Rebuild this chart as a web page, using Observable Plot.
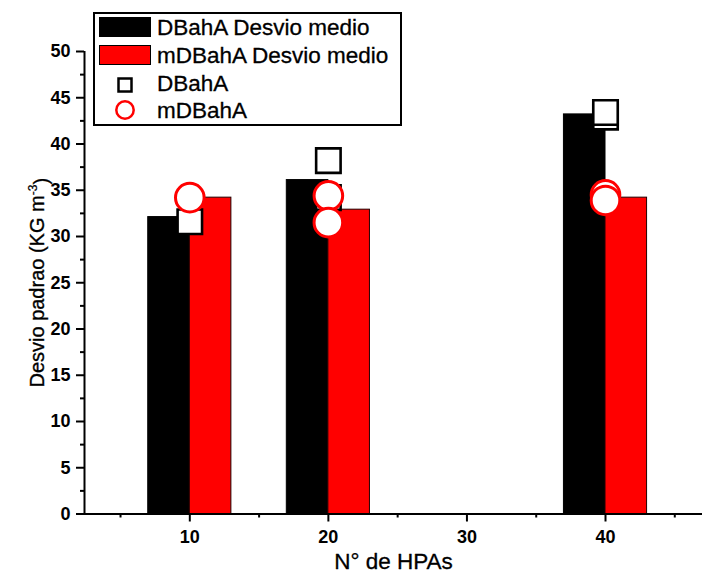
<!DOCTYPE html>
<html>
<head>
<meta charset="utf-8">
<script src="https://cdn.jsdelivr.net/npm/d3@7"></script>
<script src="https://cdn.jsdelivr.net/npm/@observablehq/plot@0.6"></script>
<style>
  body { margin: 0; background: #fff; }
  #chart { position: relative; width: 702px; height: 581px; font-family: "Liberation Sans", Arial, sans-serif; }
  #legend { position: absolute; left: 93px; top: 12px; }
</style>
</head>
<body>
<div id="chart"></div>
<script>
// Number of HPAs per group
const hpas = [10, 20, 40];
// Mean standard deviation per group
const dbahaMean = [32.1, 36.1, 43.2];
const mdbahaMean = [34.2, 32.9, 34.2];
// Individual runs (x group, value)
const dbahaRunN = [10, 20, 20, 40, 40];
const dbahaRunV = [31.6, 34.2, 38.2, 42.9, 43.4];
const mdbahaRunN = [10, 20, 20, 40, 40];
const mdbahaRunV = [34.2, 34.4, 31.5, 34.5, 33.9];
// Axis ticks
const yTicks = [0, 5, 10, 15, 20, 25, 30, 35, 40, 45, 50];
const yMinorTicks = [2.5, 7.5, 12.5, 17.5, 22.5, 27.5, 32.5, 37.5, 42.5, 47.5];
const xTicks = [10, 20, 30, 40];
const xMinorTicks = [5, 15, 25, 35, 45];
// Axis titles and legend labels
const xTitle = "N° de HPAs";
const yTitleBase = "Desvio padrao (KG m";
const yTitleExp = "-3";
const seriesNames = ["DBahA Desvio medio", "mDBahA Desvio medio", "DBahA", "mDBahA"];

const xDomain = [2.4, 47];
const barW = 3;
const font = '"Liberation Sans", Arial, sans-serif';

const bars = hpas.map((n, i) => ({n, dbaha: dbahaMean[i], mdbaha: mdbahaMean[i]}));
const squares = dbahaRunN.map((n, i) => ({n, v: dbahaRunV[i]}));
const circles = mdbahaRunN.map((n, i) => ({n, v: mdbahaRunV[i]}));

const chart = Plot.plot({
  width: 702,
  height: 581,
  marginLeft: 84,
  marginRight: 0,
  marginTop: 51,
  marginBottom: 67.5,
  style: {fontFamily: font, background: "white", overflow: "visible"},
  x: {domain: xDomain, label: null},
  y: {domain: [0, 50], label: null},
  marks: [
    Plot.rect(bars, {x1: d => d.n - barW, x2: d => d.n, y1: 0, y2: "dbaha", fill: "#000", stroke: "#000", strokeWidth: 1}),
    Plot.rect(bars, {x1: d => d.n, x2: d => d.n + barW, y1: 0, y2: "mdbaha", fill: "#ff0000", stroke: "#200", strokeWidth: 1}),
    Plot.dot(squares, {x: "n", y: "v", symbol: "square", r: 13.8, fill: "white", stroke: "#000", strokeWidth: 2.6}),
    Plot.dot(circles, {x: "n", y: "v", symbol: "circle", r: 14.3, fill: "white", stroke: "#ff0000", strokeWidth: 3}),
    Plot.ruleY([0], {stroke: "#000", strokeWidth: 2}),
    Plot.ruleX([xDomain[0]], {y1: 0, y2: 50, stroke: "#000", strokeWidth: 2}),
    Plot.axisY({ticks: yTicks, tickSize: 8, tickPadding: 6, strokeWidth: 2, label: null, tickFormat: d => String(d)}),
    Plot.axisY({ticks: yMinorTicks, tickSize: 4, strokeWidth: 2, tickFormat: () => "", label: null}),
    Plot.axisX({ticks: xTicks, tickSize: 8, tickPadding: 8, strokeWidth: 2, label: null, tickFormat: d => String(d)}),
    Plot.axisX({ticks: xMinorTicks, tickSize: 4, strokeWidth: 2, tickFormat: () => "", label: null}),
    Plot.text([xTitle], {text: d => d, frameAnchor: "bottom", dy: 54.5, fontSize: 22.5, fill: "#000", stroke: "#000", strokeWidth: 0.3}),
    Plot.text([yTitleBase], {text: d => d, frameAnchor: "left", dx: -47, rotate: -90, fontSize: 20, fill: "#000", stroke: "#000", strokeWidth: 0.35})
  ]
});

const svg = d3.select(chart);
// bold, larger tick labels
svg.selectAll('g[aria-label="y-axis tick label"], g[aria-label="x-axis tick label"]')
  .attr("font-size", 18).attr("font-weight", "bold").attr("fill", "#000");
svg.selectAll('g[aria-label="y-axis tick label"] text, g[aria-label="x-axis tick label"] text')
  .style("font-size", "18px").style("font-weight", "bold");

// superscript unit exponent on the y title
svg.selectAll("text")
  .filter(function() { return this.textContent === yTitleBase; })
  .each(function() {
    const t = d3.select(this).attr("text-anchor", "middle").style("text-anchor", "middle");
    t.text(null);
    t.append("tspan").text(yTitleBase);
    t.append("tspan").attr("dy", "-0.55em").attr("font-size", 12).attr("stroke-width", 0.2).text(yTitleExp);
    t.append("tspan").attr("dy", "0.55em").text(")");
  });

const root = document.getElementById("chart");
root.appendChild(chart);

// legend box
const lg = d3.create("svg").attr("id", "legend").attr("width", 310).attr("height", 115)
  .style("font-family", font);
lg.append("rect").attr("x", 1).attr("y", 1).attr("width", 307).attr("height", 112)
  .attr("fill", "white").attr("stroke", "#000").attr("stroke-width", 2);
lg.append("rect").attr("x", 6).attr("y", 5).attr("width", 52).attr("height", 20).attr("fill", "#000");
lg.append("rect").attr("x", 6.5).attr("y", 33.5).attr("width", 51).attr("height", 19)
  .attr("fill", "#ff0000").attr("stroke", "#000").attr("stroke-width", 1);
lg.append("rect").attr("x", 25.5).attr("y", 66.5).attr("width", 13).attr("height", 13)
  .attr("fill", "white").attr("stroke", "#000").attr("stroke-width", 2.5);
lg.append("circle").attr("cx", 32).attr("cy", 98).attr("r", 8.7)
  .attr("fill", "white").attr("stroke", "#ff0000").attr("stroke-width", 2.5);
const rowY = [15, 43, 71, 98];
seriesNames.forEach((name, i) => {
  lg.append("text").attr("x", 64).attr("y", rowY[i]).attr("dy", "0.35em")
    .attr("font-size", 22.5).attr("fill", "#000").attr("stroke", "#000").attr("stroke-width", 0.3)
    .text(name);
});
root.appendChild(lg.node());
</script>
</body>
</html>
